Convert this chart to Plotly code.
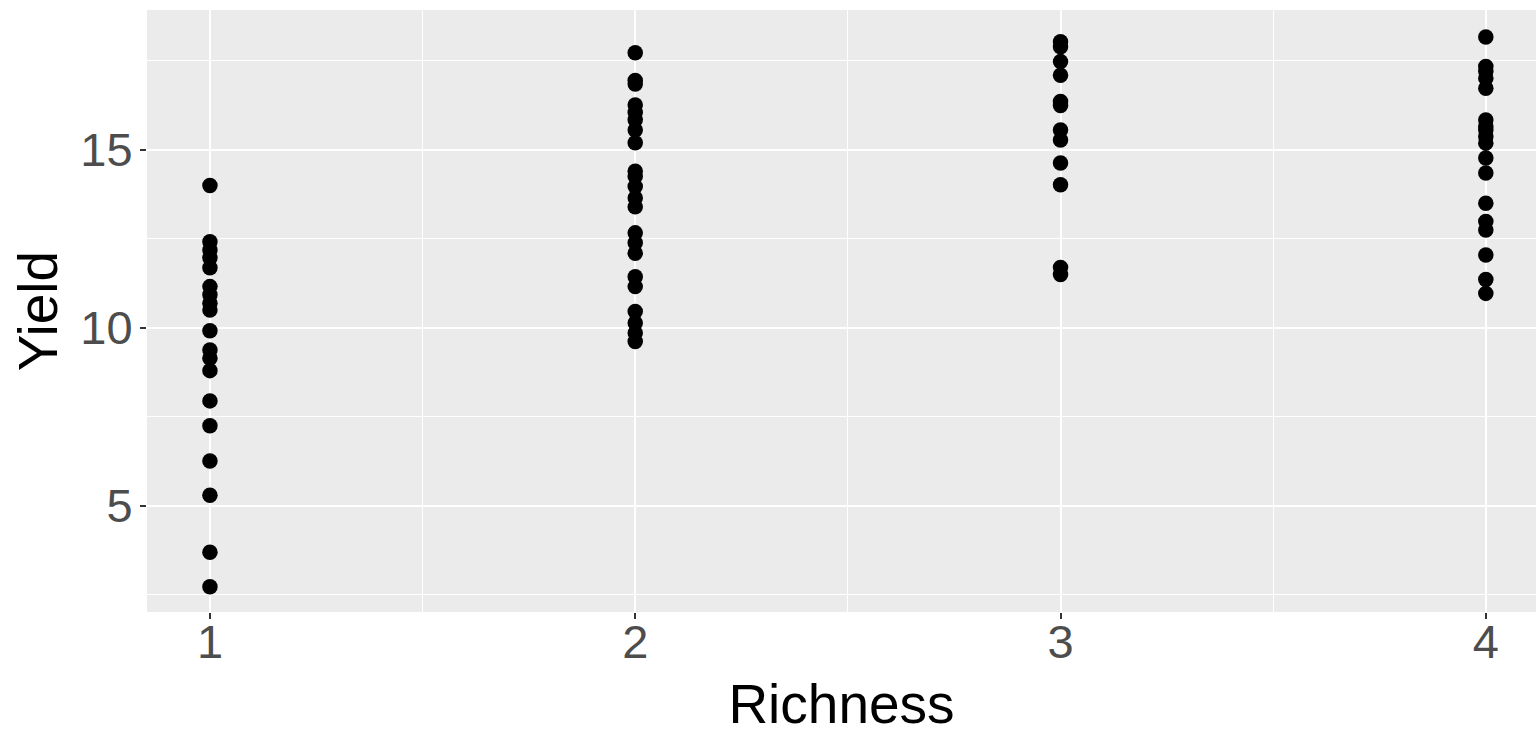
import plotly.graph_objects as go

richness_1 = [14.0, 12.42, 12.19, 11.97, 11.69, 11.16, 10.93, 10.69, 10.5, 9.92, 9.38, 9.15, 8.8, 7.95, 7.25, 6.26, 5.3, 3.7, 2.73]
richness_2 = [17.73, 16.95, 16.85, 16.26, 16.05, 15.85, 15.56, 15.2, 14.4, 14.25, 13.97, 13.65, 13.4, 12.67, 12.39, 12.1, 11.44, 11.16, 10.46, 10.14, 9.86, 9.62]
richness_3 = [18.04, 17.9, 17.48, 17.1, 16.36, 16.25, 15.56, 15.28, 14.63, 14.02, 11.7, 11.5]
richness_4 = [18.17, 17.34, 17.2, 17.01, 16.73, 15.84, 15.65, 15.56, 15.37, 15.19, 14.77, 14.35, 13.5, 12.99, 12.75, 12.05, 11.36, 10.97]

groups = [1, 2, 3, 4]
series = [richness_1, richness_2, richness_3, richness_4]

xs, ys = [], []
for g, vals in zip(groups, series):
    xs += [g] * len(vals)
    ys += vals

fig = go.Figure(go.Scatter(
    x=xs, y=ys, mode="markers",
    marker=dict(color="black", size=15.5),
    showlegend=False,
))

fig.update_layout(
    width=1536, height=735,
    margin=dict(l=147, r=0, t=10, b=123),
    paper_bgcolor="white",
    plot_bgcolor="#EBEBEB",
    font=dict(family="Liberation Sans, Arial, sans-serif"),
)
fig.update_xaxes(
    range=[0.852, 4.118],
    tickvals=[1, 2, 3, 4], ticktext=["1", "2", "3", "4"],
    showgrid=True, gridcolor="white", gridwidth=2.2,
    minor=dict(tickvals=[1.5, 2.5, 3.5], showgrid=True, gridcolor="white", gridwidth=1.1, ticks=""),
    ticks="outside", ticklen=6, tickwidth=2, tickcolor="#333333",
    tickfont=dict(size=47, color="#4D4D4D"),
    ticklabelstandoff=-17,
    title=dict(text="Richness", font=dict(size=55, color="black"), standoff=19),
    zeroline=False, showline=False,
)
fig.update_yaxes(
    range=[2.02, 18.93],
    tickvals=[5, 10, 15],
    showgrid=True, gridcolor="white", gridwidth=2.2,
    minor=dict(tickvals=[2.5, 7.5, 12.5, 17.5], showgrid=True, gridcolor="white", gridwidth=1.1, ticks=""),
    ticks="outside", ticklen=6, tickwidth=2, tickcolor="#333333",
    tickfont=dict(size=47, color="#4D4D4D"),
    ticklabelstandoff=-2,
    title=dict(text="Yield", font=dict(size=55, color="black"), standoff=5),
    zeroline=False, showline=False,
)

fig.write_html("out.html")
